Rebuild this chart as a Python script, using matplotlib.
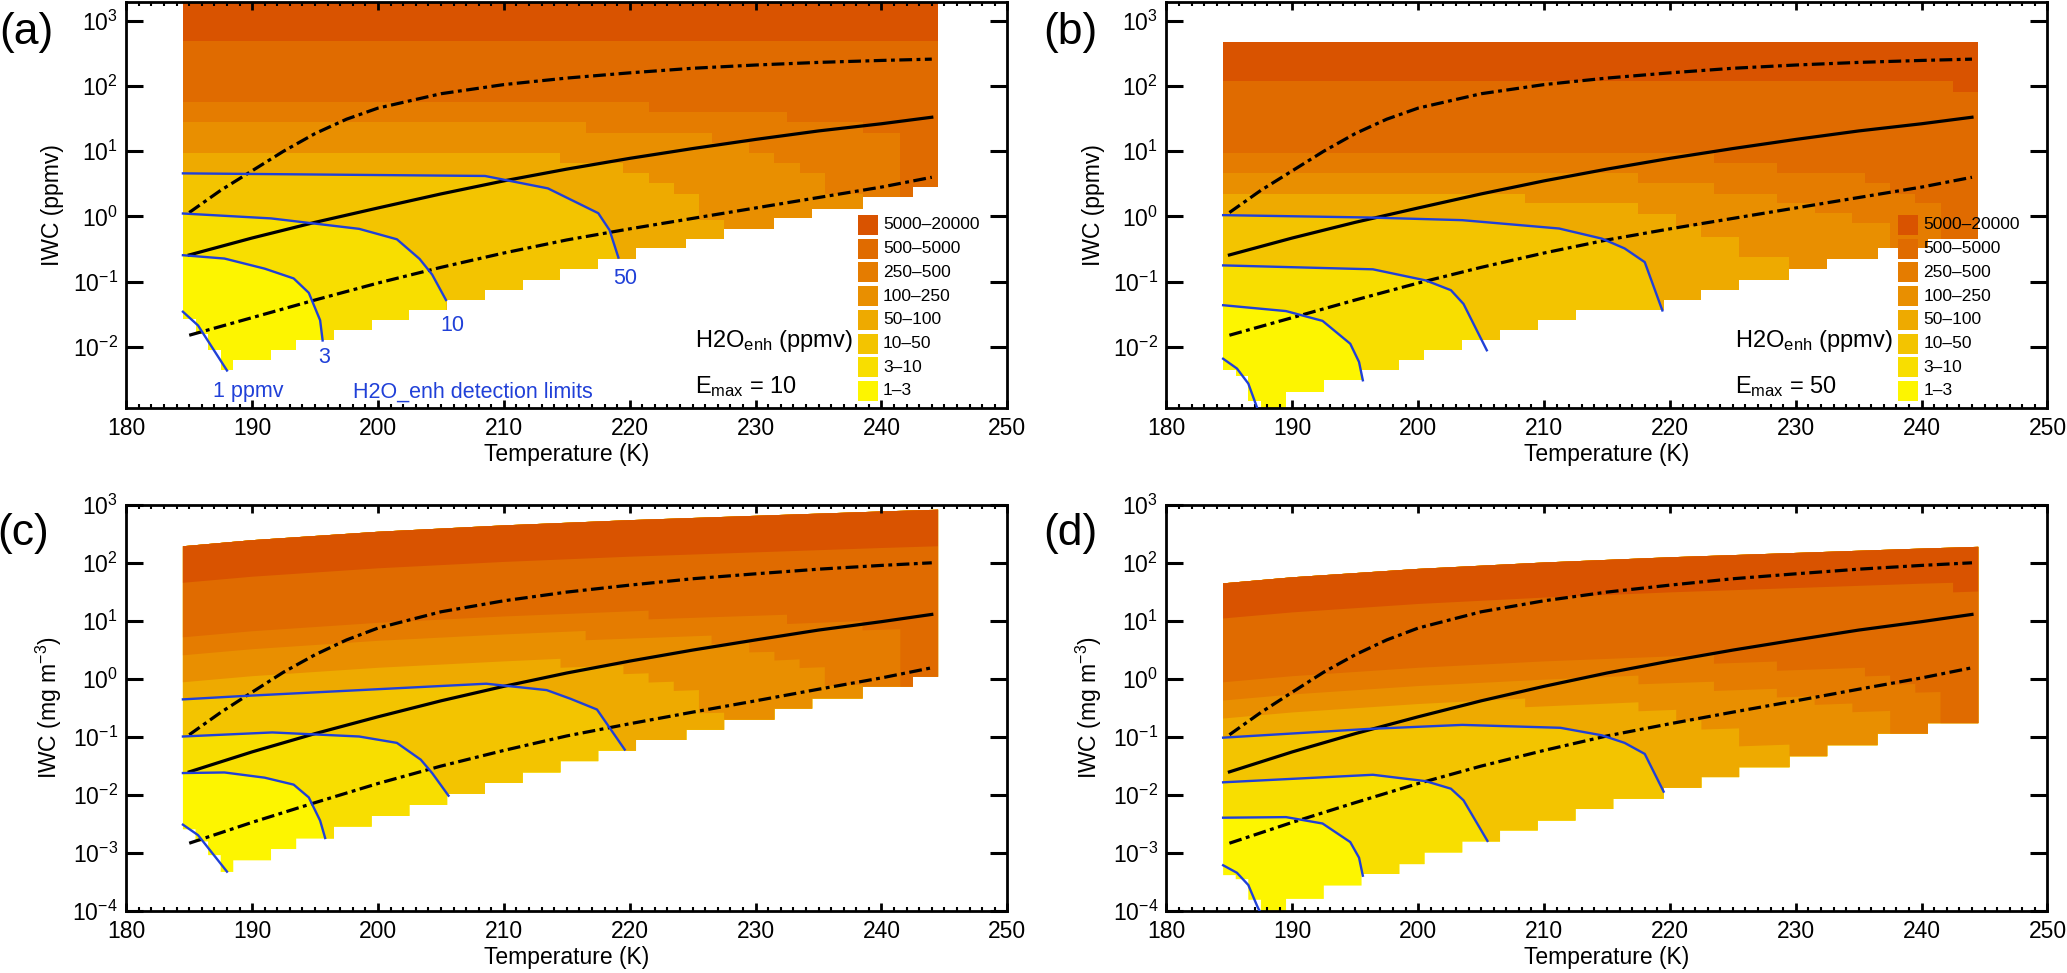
import numpy as np
import matplotlib
matplotlib.use("Agg")
import matplotlib.pyplot as plt
from matplotlib.patches import Polygon, Rectangle
from matplotlib.ticker import FixedLocator, MultipleLocator, NullLocator, FuncFormatter

plt.rcParams['font.family'] = ['Liberation Sans', 'DejaVu Sans']
plt.rcParams['mathtext.fontset'] = 'custom'
plt.rcParams['mathtext.rm'] = 'Liberation Sans'
plt.rcParams['mathtext.it'] = 'Liberation Sans:italic'
plt.rcParams['mathtext.bf'] = 'Liberation Sans:bold'

# ---- colour classes of H2O_enh (ppmv), dark to light ----
class_labels = ["5000–20000", "500–5000", "250–500", "100–250", "50–100", "10–50", "3–10", "1–3"]
class_colors = ["#d95300", "#e06b00", "#e57c00", "#e98f00", "#eeaa00", "#f3c400", "#f8de00", "#fdf500"]
blue = "#2040d8"

# ---- panel (a): IWC in ppmv, Emax = 10  (log10 values) ----
a_bot_edges = [184.5, 185.5, 186.5, 187.5, 188.5, 191.5, 193.5, 196.5, 199.5, 202.5, 205.5, 208.5,
               211.5, 214.5, 217.5, 220.5, 224.5, 227.5, 231.5, 234.5, 238.5, 242.5, 244.5]
a_bot_levels = [-1.57, -1.80, -2.05, -2.36, -2.20, -2.05, -1.90, -1.74, -1.59, -1.44, -1.28, -1.12,
                -0.97, -0.80, -0.645, -0.49, -0.34, -0.19, -0.03, 0.12, 0.30, 0.45]
a_top_edges = [184.5, 244.5]
a_top_levels = [3.32]
a_c5000_edges = [184.5, 244.5]
a_c5000_levels = [2.69]
a_c500_edges = [184.5, 221.5, 232.5, 238.5, 241.5, 244.5]
a_c500_levels = [1.75, 1.60, 1.44, 1.28, 0.0]
a_c250_edges = [184.5, 216.5, 226.5, 229.5, 231.5, 233.5, 235.5, 238.5, 244.5]
a_c250_levels = [1.44, 1.28, 1.13, 0.97, 0.82, 0.67, 0.35, -1.0]
a_c100_edges = [184.5, 214.5, 219.5, 221.5, 223.5, 225.5, 227.5, 244.5]
a_c100_levels = [0.975, 0.82, 0.67, 0.51, 0.35, -0.05, -2.0]
a_l50_t = [184.5, 208.5, 213.5, 217.5, 218.4, 219.1]
a_l50 = [0.66, 0.62, 0.43, 0.05, -0.21, -0.63]
a_l10_t = [184.5, 191.5, 198.5, 201.5, 203.3, 204.3, 205.4]
a_l10 = [0.045, -0.03, -0.19, -0.35, -0.65, -0.89, -1.28]
a_l3_t = [184.5, 187.8, 191.0, 193.3, 194.5, 195.4, 195.6]
a_l3 = [-0.594, -0.645, -0.80, -0.95, -1.17, -1.59, -1.90]
a_l1_t = [184.5, 185.7, 188.0]
a_l1 = [-1.46, -1.67, -2.36]

# ---- panel (b): IWC in ppmv, Emax = 50 ----
b_bot_edges = [184.5, 185.5, 186.5, 187.5, 189.5, 192.5, 195.5, 198.5, 200.5, 203.5, 206.5, 209.5,
               212.5, 215.5, 219.5, 222.5, 225.5, 229.5, 232.5, 236.5, 240.5, 244.5]
b_bot_levels = [-2.36, -2.45, -2.82, -3.3, -2.69, -2.51, -2.36, -2.20, -2.05, -1.90, -1.74, -1.59,
                -1.44, -1.44, -1.28, -1.12, -0.97, -0.80, -0.645, -0.49, -0.34]
b_top_edges = [184.5, 244.5]
b_top_levels = [2.68]
b_c5000_edges = [184.5, 242.5, 244.5]
b_c5000_levels = [2.075, 1.91]
b_c500_edges = [184.5, 223.5, 228.5, 235.5, 237.5, 239.5, 241.5, 244.5]
b_c500_levels = [0.975, 0.82, 0.66, 0.51, 0.35, 0.20, -1.0]
b_c250_edges = [184.5, 217.5, 223.5, 228.5, 231.5, 234.5, 237.5, 244.5]
b_c250_levels = [0.66, 0.51, 0.35, 0.20, 0.05, -0.10, -1.5]
b_c100_edges = [184.5, 208.5, 217.5, 220.5, 222.5, 225.5, 229.5, 244.5]
b_c100_levels = [0.35, 0.20, 0.045, -0.15, -0.31, -0.62, -3.0]
b_l50_t = [184.5, 196.0, 203.5, 211.2, 214.6, 216.4, 218.0, 219.4]
b_l50 = [0.02, -0.016, -0.057, -0.185, -0.34, -0.49, -0.70, -1.44]
b_l10_t = [184.5, 196.4, 200.6, 202.6, 203.6, 205.45]
b_l10 = [-0.75, -0.81, -0.98, -1.13, -1.34, -2.05]
b_l3_t = [184.5, 189.5, 192.4, 194.6, 195.3, 195.6]
b_l3 = [-1.36, -1.45, -1.60, -1.95, -2.23, -2.51]
b_l1_t = [184.5, 185.6, 186.5, 187.2, 187.5]
b_l1 = [-2.18, -2.33, -2.56, -2.93, -3.1]

# ---- panel (c): IWC in mg m-3, Emax = 10 ----
c_bot_levels = [-2.60, -2.81, -3.045, -3.335, -3.135, -2.94, -2.76, -2.555, -2.37, -2.18, -1.99, -1.80,
                -1.62, -1.425, -1.245, -1.06, -0.885, -0.71, -0.52, -0.345, -0.14, 0.03]
c_top_t = [184.5, 190, 200, 210, 220, 230, 240, 244.5]
c_top = [2.28, 2.385, 2.53, 2.64, 2.73, 2.805, 2.88, 2.91]
c_c5000_t = [184.5, 190, 200, 210, 220, 230, 240, 244.5]
c_c5000 = [1.65, 1.755, 1.90, 2.01, 2.10, 2.175, 2.25, 2.28]
c_c500_t = [184.5, 190, 200, 210, 221.5, 221.5, 232.5, 232.5, 238.5, 238.5, 241.5, 241.5, 244.5]
c_c500 = [0.71, 0.815, 0.96, 1.07, 1.17, 1.02, 1.10, 0.94, 0.99, 0.83, 0.85, -0.43, -0.41]
c_c250_t = [184.5, 190, 200, 210, 216.5, 216.5, 226.5, 226.5, 229.5, 229.5, 231.5, 231.5, 233.5,
            233.5, 235.5, 235.5, 238.5, 238.5, 244.5]
c_c250 = [0.40, 0.505, 0.65, 0.76, 0.82, 0.66, 0.74, 0.59, 0.61, 0.45, 0.46, 0.31, 0.33,
          0.18, 0.195, -0.125, -0.105, -1.5, -1.5]
c_c100_t = [184.5, 190, 200, 210, 214.5, 214.5, 219.5, 219.5, 221.5, 221.5, 223.5, 223.5, 225.5,
            225.5, 227.5, 227.5, 244.5]
c_c100 = [-0.065, 0.04, 0.185, 0.295, 0.34, 0.185, 0.225, 0.075, 0.09, -0.07, -0.055, -0.215, -0.20,
          -0.60, -0.59, -2.5, -2.5]
c_l50_t = [184.5, 189.0, 208.6, 213.4, 215.3, 217.4, 219.6]
c_l50 = [-0.36, -0.305, -0.09, -0.20, -0.35, -0.535, -1.225]
c_l10_t = [184.5, 191.6, 198.5, 201.5, 203.4, 204.3, 205.6]
c_l10 = [-1.0, -0.93, -1.0, -1.11, -1.40, -1.63, -2.02]
c_l3_t = [184.5, 187.8, 191.0, 193.3, 194.5, 195.4, 195.8]
c_l3 = [-1.63, -1.62, -1.71, -1.83, -2.05, -2.45, -2.75]
c_l1_t = [184.5, 185.7, 188.0]
c_l1 = [-2.52, -2.70, -3.33]

# ---- panel (d): IWC in mg m-3, Emax = 50 ----
d_bot_levels = [-3.39, -3.46, -3.815, -4.3, -3.80, -3.57, -3.37, -3.20, -3.0, -2.81, -2.62, -2.45,
                -2.25, -2.075, -1.885, -1.70, -1.53, -1.34, -1.15, -0.95, -0.77]
d_top_t = [184.5, 190, 200, 210, 220, 230, 240, 244.5]
d_top = [1.64, 1.745, 1.89, 2.0, 2.09, 2.165, 2.24, 2.27]
d_c5000_t = [184.5, 190, 200, 210, 220, 230, 240, 242.5, 242.5, 244.5]
d_c5000 = [1.035, 1.14, 1.285, 1.395, 1.485, 1.56, 1.635, 1.65, 1.485, 1.50]
d_c500_t = [184.5, 190, 200, 210, 223.5, 223.5, 228.5, 228.5, 235.5, 235.5, 237.5, 237.5, 239.5,
            239.5, 241.5, 241.5, 244.5]
d_c500 = [-0.065, 0.04, 0.185, 0.295, 0.41, 0.255, 0.293, 0.133, 0.186, 0.036, 0.051, -0.109, -0.094,
          -0.244, -0.233, -1.5, -1.5]
d_c250_t = [184.5, 190, 200, 210, 217.5, 217.5, 223.5, 223.5, 228.5, 228.5, 231.5, 231.5, 234.5,
            234.5, 237.5, 237.5, 244.5]
d_c250 = [-0.38, -0.275, -0.13, -0.02, 0.05, -0.10, -0.055, -0.215, -0.177, -0.327, -0.305, -0.455,
          -0.431, -0.581, -0.559, -2.0, -2.0]
d_c100_t = [184.5, 190, 200, 208.5, 208.5, 217.5, 217.5, 220.5, 220.5, 222.5, 222.5, 225.5, 225.5,
            229.5, 229.5, 244.5]
d_c100 = [-0.69, -0.585, -0.44, -0.345, -0.495, -0.41, -0.565, -0.54, -0.735, -0.72, -0.88, -0.86,
          -1.17, -1.14, -3.5, -3.5]
d_l50_t = [184.5, 196.0, 203.5, 211.3, 214.6, 216.4, 218.0, 219.5]
d_l50 = [-1.02, -0.87, -0.80, -0.85, -0.98, -1.11, -1.30, -1.95]
d_l10_t = [184.5, 196.4, 200.6, 202.6, 203.6, 205.5]
d_l10 = [-1.79, -1.66, -1.77, -1.90, -2.10, -2.80]
d_l3_t = [184.5, 189.5, 192.4, 194.6, 195.3, 195.6]
d_l3 = [-2.40, -2.39, -2.50, -2.82, -3.09, -3.40]
d_l1_t = [184.5, 185.6, 186.5, 187.2, 187.6]
d_l1 = [-3.22, -3.35, -3.56, -3.92, -4.1]

# ---- black reference curves (log10 IWC) ----
t_solid = [185, 190, 195, 200, 205, 210, 215, 220, 225, 230, 235, 240, 244]
solid_ppmv = [-0.59, -0.33, -0.09, 0.13, 0.345, 0.545, 0.725, 0.89, 1.04, 1.18, 1.31, 1.42, 1.52]
solid_mg = [-1.61, -1.265, -0.95, -0.66, -0.385, -0.135, 0.095, 0.30, 0.49, 0.665, 0.835, 0.98, 1.105]
t_upper = [185, 187.5, 190, 192.5, 195, 197.5, 200, 205, 210, 215, 220, 225, 230, 235, 240, 244]
upper_ppmv = [0.06, 0.40, 0.70, 1.00, 1.27, 1.49, 1.66, 1.88, 2.02, 2.12, 2.20, 2.27, 2.32, 2.36, 2.39, 2.41]
upper_mg = [-0.97, -0.585, -0.235, 0.11, 0.41, 0.665, 0.87, 1.15, 1.34, 1.49, 1.61, 1.72, 1.805, 1.885,
            1.95, 1.995]
t_lower = [185, 190, 195, 200, 205, 210, 215, 220, 225, 230, 235, 240, 244]
lower_ppmv = [-1.82, -1.55, -1.28, -1.02, -0.78, -0.56, -0.36, -0.19, -0.03, 0.13, 0.29, 0.45, 0.60]
lower_mg = [-2.84, -2.48, -2.14, -1.81, -1.51, -1.24, -0.99, -0.78, -0.58, -0.385, -0.185, 0.01, 0.185]

FS = 16.5


def stairs(edges, levels):
    t = np.repeat(np.asarray(edges, float), 2)[1:-1]
    y = np.repeat(np.asarray(levels, float), 2)
    return t, y


def draw_panel(ax, bottom, top, contours, blues, blacks, ylog, ylabel):
    xmin, xmax = 180, 250
    tb, yb = bottom
    tt, yt = top
    verts = list(zip(tb, 10.0 ** np.asarray(yb))) + list(zip(np.asarray(tt)[::-1], 10.0 ** np.asarray(yt)[::-1]))
    field = Polygon(verts, closed=True, facecolor=class_colors[-1], edgecolor='none', zorder=1)
    ax.add_patch(field)
    lo, hi = 1e-9, 1e6
    for color, (t, y) in zip(class_colors[-2::-1], contours):
        yy = 10.0 ** np.asarray(y, float)
        xs = [xmin] + list(t) + [t[-1], xmax, xmax, xmin]
        ys = [yy[0]] + list(yy) + [lo, lo, hi, hi]
        p = Polygon(list(zip(xs, ys)), closed=True, facecolor=color, edgecolor='none', zorder=1)
        ax.add_patch(p)
        p.set_clip_path(field)

    for t, y in blues:
        ax.plot(t, 10.0 ** np.asarray(y), color=blue, lw=1.7, zorder=4)
    (ts, ys), (tu, yu), (tl, yl) = blacks
    ax.plot(ts, 10.0 ** np.asarray(ys), color='black', lw=2.3, zorder=3)
    ddash = (0, (4, 1.4, 1.2, 1.4))
    ax.plot(tu, 10.0 ** np.asarray(yu), color='black', lw=2.3, ls=ddash, zorder=3)
    ax.plot(tl, 10.0 ** np.asarray(yl), color='black', lw=2.3, ls=ddash, zorder=3)

    ax.set_yscale('log')
    ax.set_xlim(xmin, xmax)
    ax.set_ylim(10.0 ** ylog[0], 10.0 ** ylog[1])
    ax.set_xticks(range(180, 251, 10))
    ax.xaxis.set_minor_locator(MultipleLocator(1))
    decades = range(int(np.ceil(ylog[0])), int(np.floor(ylog[1])) + 1)
    ax.yaxis.set_major_locator(FixedLocator([10.0 ** n for n in decades]))
    ax.yaxis.set_minor_locator(NullLocator())
    ax.yaxis.set_major_formatter(FuncFormatter(lambda v, p: r'10$^{%d}$' % round(np.log10(v))))
    ax.tick_params(axis='both', which='both', direction='in', top=True, right=True, labelsize=FS)
    ax.tick_params(axis='x', which='major', length=6, width=2, pad=7)
    ax.tick_params(axis='x', which='minor', length=3, width=1.5)
    ax.tick_params(axis='y', which='major', length=12, width=2.2, pad=6)
    for s in ax.spines.values():
        s.set_linewidth(2)
    ax.set_xlabel('Temperature (K)', fontsize=FS, labelpad=2)
    ax.set_ylabel(ylabel, fontsize=FS, labelpad=6)


def draw_legend(ax, emax):
    for i, (lab, col) in enumerate(zip(class_labels, class_colors)):
        top = 0.4746 - i * 0.0584
        ax.add_patch(Rectangle((0.830, top - 0.0493), 0.0227, 0.0493, transform=ax.transAxes,
                               facecolor=col, edgecolor='none', zorder=5, clip_on=False))
        ax.text(0.859, top - 0.0246, lab, transform=ax.transAxes, fontsize=12.5, va='center', ha='left', zorder=6)
    ax.text(0.6455, 0.150, r'H2O$_{\rm enh}$ (ppmv)', transform=ax.transAxes, fontsize=17, va='baseline')
    ax.text(0.6455, 0.037, r'E$_{\rm max}$ = %d' % emax, transform=ax.transAxes, fontsize=17, va='baseline')


fig = plt.figure(figsize=(20.67, 9.73), dpi=100)
W, H = 0.42622, 0.41727
ax_a = fig.add_axes([0.06110, 0.58099, W, H])
ax_b = fig.add_axes([0.56434, 0.58099, W, H])
ax_c = fig.add_axes([0.06110, 0.06423, W, H])
ax_d = fig.add_axes([0.56434, 0.06423, W, H])

blacks_ppmv = [(t_solid, solid_ppmv), (t_upper, upper_ppmv), (t_lower, lower_ppmv)]
blacks_mg = [(t_solid, solid_mg), (t_upper, upper_mg), (t_lower, lower_mg)]

draw_panel(ax_a, stairs(a_bot_edges, a_bot_levels), stairs(a_top_edges, a_top_levels),
           [(a_l3_t, a_l3), (a_l10_t, a_l10), (a_l50_t, a_l50),
            stairs(a_c100_edges, a_c100_levels), stairs(a_c250_edges, a_c250_levels),
            stairs(a_c500_edges, a_c500_levels), stairs(a_c5000_edges, a_c5000_levels)],
           [(a_l1_t, a_l1), (a_l3_t, a_l3), (a_l10_t, a_l10), (a_l50_t, a_l50)],
           blacks_ppmv, (-2.93, 3.29), 'IWC (ppmv)')
draw_panel(ax_b, stairs(b_bot_edges, b_bot_levels), stairs(b_top_edges, b_top_levels),
           [(b_l3_t, b_l3), (b_l10_t, b_l10), (b_l50_t, b_l50),
            stairs(b_c100_edges, b_c100_levels), stairs(b_c250_edges, b_c250_levels),
            stairs(b_c500_edges, b_c500_levels), stairs(b_c5000_edges, b_c5000_levels)],
           [(b_l1_t, b_l1), (b_l3_t, b_l3), (b_l10_t, b_l10), (b_l50_t, b_l50)],
           blacks_ppmv, (-2.93, 3.29), 'IWC (ppmv)')
draw_panel(ax_c, stairs(a_bot_edges, c_bot_levels), (c_top_t, c_top),
           [(c_l3_t, c_l3), (c_l10_t, c_l10), (c_l50_t, c_l50), (c_c100_t, c_c100),
            (c_c250_t, c_c250), (c_c500_t, c_c500), (c_c5000_t, c_c5000)],
           [(c_l1_t, c_l1), (c_l3_t, c_l3), (c_l10_t, c_l10), (c_l50_t, c_l50)],
           blacks_mg, (-4, 3), r'IWC (mg m$^{-3}$)')
draw_panel(ax_d, stairs(b_bot_edges, d_bot_levels), (d_top_t, d_top),
           [(d_l3_t, d_l3), (d_l10_t, d_l10), (d_l50_t, d_l50), (d_c100_t, d_c100),
            (d_c250_t, d_c250), (d_c500_t, d_c500), (d_c5000_t, d_c5000)],
           [(d_l1_t, d_l1), (d_l3_t, d_l3), (d_l10_t, d_l10), (d_l50_t, d_l50)],
           blacks_mg, (-4, 3), r'IWC (mg m$^{-3}$)')

draw_legend(ax_a, 10)
draw_legend(ax_b, 50)

# detection-limit labels in panel (a)
ax_a.text(186.9, 10 ** -2.77, '1 ppmv', color=blue, fontsize=15.5, va='baseline', ha='left')
ax_a.text(198.0, 10 ** -2.77, 'H2O_enh detection limits', color=blue, fontsize=15.5, va='baseline', ha='left')
ax_a.text(195.76, 10 ** -2.25, '3', color=blue, fontsize=15.5, va='baseline', ha='center')
ax_a.text(205.87, 10 ** -1.76, '10', color=blue, fontsize=15.5, va='baseline', ha='center')
ax_a.text(219.6, 10 ** -1.03, '50', color=blue, fontsize=15.5, va='baseline', ha='center')

for lab, x, y in [('(a)', 0.0126, 0.967), ('(b)', 0.5177, 0.967), ('(c)', 0.0111, 0.4512), ('(d)', 0.5177, 0.4512)]:
    fig.text(x, y, lab, fontsize=32, ha='center', va='center')

fig.savefig('out.png', dpi=100)
